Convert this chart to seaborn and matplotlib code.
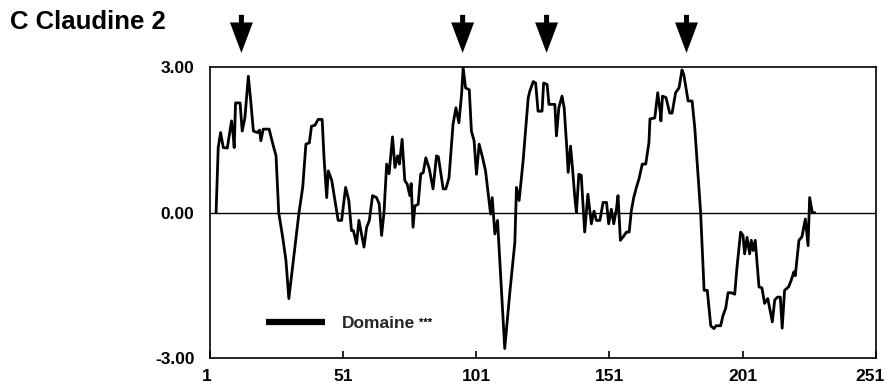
import matplotlib
matplotlib.use("Agg")
import matplotlib.pyplot as plt
import matplotlib.transforms as mtransforms
from matplotlib.lines import Line2D
import seaborn as sns
import pandas as pd

# ---- data ----
position = [3.4, 4.2, 5.1, 6.1, 7.6, 9.2, 9.8, 10.2, 10.7, 12.4, 13.2, 14.2, 15.5, 16.4,
            17.4, 18.9, 19.7, 20.2, 21.1, 23.3, 24.9, 25.9, 26.9, 28.4, 29.6, 30.7, 32.4,
            34.5, 35.9, 37.1, 38.4, 39.2, 40.5, 41.7, 43.2, 43.9, 44.9, 45.5, 46.8, 48.0,
            49.2, 50.5, 52.0, 53.2, 54.2, 54.9, 56.1, 57.0, 58.0, 58.9, 59.9, 60.9, 62.1,
            63.6, 64.6, 65.5, 66.4, 67.4, 68.3, 69.6, 70.5, 71.5, 72.2, 73.2, 74.2, 75.1,
            76.1, 76.6, 77.3, 78.0, 79.2, 80.2, 81.1, 82.1, 83.4, 84.8, 86.1, 86.8, 88.6,
            89.6, 90.8, 92.3, 93.4, 94.5, 95.5, 96.1, 97.0, 98.4, 99.2, 100.2, 101.1,
            102.1, 103.4, 104.5, 105.7, 106.4, 107.0, 108.0, 109.0, 111.7, 113.6, 115.5,
            116.1, 117.1, 118.6, 120.5, 121.1, 122.4, 123.3, 124.2, 125.7, 126.3, 127.6,
            128.3, 130.5, 131.1, 132.0, 133.2, 134.0, 134.9, 135.5, 136.4, 137.1, 138.0,
            138.6, 139.5, 140.4, 141.7, 142.9, 144.2, 145.2, 146.1, 147.4, 148.6, 149.9,
            150.7, 151.7, 152.6, 153.6, 154.2, 155.1, 156.1, 157.4, 158.4, 159.2, 160.1,
            161.1, 162.1, 163.3, 164.6, 165.8, 166.2, 168.0, 169.1, 170.1, 170.3, 170.9,
            172.2, 173.6, 174.5, 175.8, 177.1, 178.2, 178.9, 180.5, 182.0, 183.0, 185.2,
            186.5, 187.7, 189.0, 190.2, 191.0, 192.7, 193.6, 194.6, 195.5, 196.7, 198.0,
            198.8, 200.2, 201.1, 201.7, 202.6, 203.6, 204.2, 204.9, 205.7, 207.1, 208.2,
            209.2, 210.4, 212.1, 213.0, 214.0, 215.1, 215.8, 216.7, 218.2, 219.2, 220.2,
            220.7, 221.3, 222.1, 223.2, 224.5, 225.5, 226.1, 227.1, 228.0]
hydropathy = [0.00, 1.34, 1.65, 1.34, 1.33, 1.89, 1.60, 1.34, 2.26, 2.26, 1.68, 1.95, 2.81, 2.30,
              1.68, 1.65, 1.70, 1.48, 1.72, 1.72, 1.37, 1.17, 0.00, -0.51, -0.98, -1.77, -0.98,
              0.00, 0.52, 1.41, 1.44, 1.78, 1.80, 1.92, 1.92, 1.13, 0.31, 0.86, 0.66, 0.25,
              -0.16, -0.16, 0.52, 0.25, -0.37, -0.37, -0.64, -0.16, -0.45, -0.71, -0.30, -0.16, 0.35,
              0.31, 0.18, -0.47, 0.00, 1.00, 0.80, 1.56, 0.93, 1.17, 1.00, 1.51, 0.66, 0.59,
              0.35, 0.60, -0.30, 0.14, 0.17, 0.80, 0.82, 1.13, 0.90, 0.49, 1.17, 1.15, 0.49,
              0.49, 0.72, 1.82, 2.16, 1.85, 2.43, 2.98, 2.57, 2.53, 1.68, 1.48, 0.79,
              1.41, 1.13, 0.86, 0.31, -0.03, 0.31, -0.44, -0.16, -2.80, -1.65, -0.61,
              0.52, 0.25, 1.07, 2.36, 2.50, 2.70, 2.67, 2.09, 2.09, 2.67, 2.64,
              2.23, 2.23, 1.58, 2.16, 2.40, 2.16, 1.41, 0.83, 1.37, 0.93, 0.31,
              0.00, 0.79, 0.77, -0.40, 0.38, -0.23, 0.03, -0.16, -0.16, 0.21, 0.21,
              -0.23, 0.07, -0.23, 0.07, 0.35, -0.57, -0.50, -0.40, -0.40, 0.04, 0.31,
              0.52, 0.70, 1.00, 1.00, 1.44, 1.93, 1.95, 2.47, 2.05, 1.89, 2.40,
              2.37, 2.05, 2.05, 2.47, 2.57, 2.94, 2.84, 2.30, 2.30, 1.75, 0.00,
              -1.60, -1.60, -2.33, -2.39, -2.33, -2.33, -2.12, -1.97, -1.65, -1.65, -1.68,
              -1.15, -0.40, -0.47, -0.85, -0.51, -0.85, -0.57, -0.78, -0.57, -1.53, -1.55,
              -1.87, -1.77, -2.25, -1.80, -1.74, -1.74, -2.38, -1.60, -1.53, -1.39, -1.22,
              -1.30, -0.98, -0.57, -0.50, -0.13, -0.68, 0.31, 0.00, 0.00]
x_ticks = [1, 51, 101, 151, 201, 251]
y_ticks = [-3.0, 0.0, 3.0]
y_tick_labels = ["-3.00", "0.00", "3.00"]
arrow_positions = [12.9, 95.9, 127.4, 179.9]
title = "C Claudine 2"
legend_label = "Domaine"
legend_stars = "***"

df = pd.DataFrame({"position": position, "hydropathy": hydropathy})

# ---- style ----
sns.set_style("ticks")
plt.rcParams["font.family"] = ["Liberation Sans", "DejaVu Sans"]
plt.rcParams["font.weight"] = "bold"

fig = plt.figure(figsize=(8.87, 3.85), dpi=100)
ax = fig.add_axes([0.2364, 0.0694, 0.7512, 0.7566])

sns.lineplot(data=df, x="position", y="hydropathy", ax=ax, color="black",
             linewidth=2.0, estimator=None, sort=False, legend=False)
ax.axhline(0, color="black", linewidth=1.0, zorder=1)

ax.set_xlim(1, 251)
ax.set_ylim(-3, 3)
ax.set_xticks(x_ticks)
ax.set_xticklabels([str(t) for t in x_ticks], fontsize=12.5, fontweight="bold")
ax.set_yticks(y_ticks)
ax.set_yticklabels(y_tick_labels, fontsize=12.5, fontweight="bold")
ax.tick_params(axis="x", direction="in", length=5, width=1.2, pad=8, colors="black")
ax.tick_params(axis="y", length=0, pad=11, colors="black")
ax.set_xlabel("")
ax.set_ylabel("")
for s in ax.spines.values():
    s.set_visible(True)
    s.set_linewidth(1.2)
    s.set_color("black")

# shift the first and last x labels slightly as in the reference
xlabels = ax.get_xticklabels()
xlabels[0].set_transform(xlabels[0].get_transform() +
                         mtransforms.ScaledTranslation(-3 / 100, 0, fig.dpi_scale_trans))
xlabels[-1].set_transform(xlabels[-1].get_transform() +
                          mtransforms.ScaledTranslation(-6 / 100, 0, fig.dpi_scale_trans))

# domain legend
handle = Line2D([0], [0], color="black", linewidth=4.5, solid_capstyle="butt")
leg = ax.legend([handle], [legend_label], loc="center left",
                bbox_to_anchor=(0.0845, 0.118), frameon=False, borderpad=0,
                borderaxespad=0, handlelength=3.4, handletextpad=0.95,
                prop={"size": 12.5, "weight": "bold"})
fig.canvas.draw()
txt = leg.get_texts()[0]
bb = txt.get_window_extent(fig.canvas.get_renderer())
fig.text((bb.x1 + 4) / fig.bbox.width, (bb.y1 - 1) / fig.bbox.height, legend_stars,
         ha="left", va="top", fontsize=8, fontweight="bold", color="black")

# arrows above the plot
for xa in arrow_positions:
    ax.annotate("", xy=(xa, 1.048), xytext=(xa, 1.179),
                xycoords=("data", "axes fraction"),
                textcoords=("data", "axes fraction"),
                arrowprops=dict(arrowstyle="simple,head_length=22,head_width=16.5,tail_width=3.6",
                                mutation_scale=1, color="black", shrinkA=0, shrinkB=0,
                                linewidth=0),
                annotation_clip=False)

fig.text(10 / 887, 1 - 22 / 385, title, ha="left", va="center",
         fontsize=18.5, fontweight="bold", color="black")

fig.savefig("out.png", dpi=100)
